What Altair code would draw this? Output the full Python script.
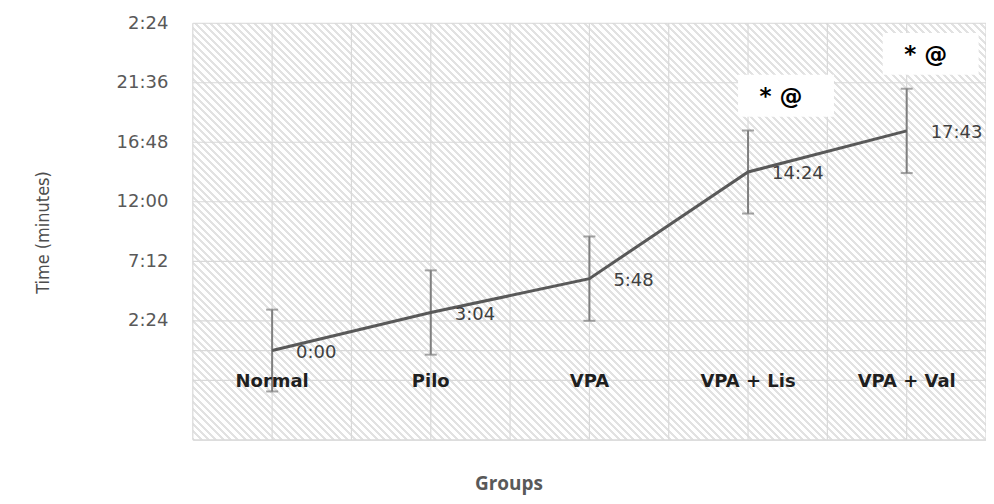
import altair as alt
import pandas as pd

# ---- data ----
categories = ["Normal", "Pilo", "VPA", "VPA + Lis", "VPA + Val"]
mean_minutes = [0.0, 3.067, 5.8, 14.4, 17.717]
value_labels = ["0:00", "3:04", "5:48", "14:24", "17:43"]
error_minutes = [3.3, 3.4, 3.4, 3.35, 3.4]

ytick_values = [-7.2, -2.4, 2.4, 7.2, 12.0, 16.8, 21.6, 26.4]
ytick_labels = ["", "", "2:24", "7:12", "12:00", "16:48", "21:36", "2:24"]
y_domain = [-7.2, 26.4]
baseline_value = [0.0]

ann_categories = ["VPA + Lis", "VPA + Val"]
ann_texts = ["* @", "* @"]
ann_box_low = [18.86, 22.24]
ann_box_high = [22.24, 25.62]
ann_text_y = [20.47, 23.85]

# ---- styles ----
W, H = 794, 417
GRID = "#d9d9d9"
ann_box_dx = [38, 24]
ann_text_dx = [33, 19]

df = pd.DataFrame({
    "cat": categories,
    "mean": mean_minutes,
    "label": value_labels,
    "lo": [m - e for m, e in zip(mean_minutes, error_minutes)],
    "hi": [m + e for m, e in zip(mean_minutes, error_minutes)],
})
ticks_df = pd.DataFrame({"v": ytick_values})
base_df = pd.DataFrame({"v": baseline_value})
cats_df = pd.DataFrame({"cat": categories})

keys = [int(round(v * 10)) for v in ytick_values]
label_expr = "[" + ",".join("'%s'" % s for s in ytick_labels) + "][indexof([" + \
    ",".join(str(k) for k in keys) + "], round(datum.value*10))]"

xscale = alt.Scale(type="band", domain=categories, paddingInner=0, paddingOuter=0)
yscale = alt.Scale(domain=y_domain, nice=False, zero=False)

xaxis = alt.Axis(
    orient="bottom", offset=-89, domain=False, ticks=False, tickSize=0, grid=False,
    labelPadding=31, labelBaseline="middle", labelAngle=0,
    labelFont="DejaVu Sans", labelFontSize=18, labelFontWeight="bold", labelColor="#1f1f1f",
    title="Groups", titleFont="Open Sans", titleFontSize=19, titleFontWeight="bold",
    titleColor="#595959", titleX=316, titleY=133, titleBaseline="middle", titleAnchor="middle",
    zindex=1,
)
yaxis = alt.Axis(
    values=ytick_values, labelExpr=label_expr, grid=False, domain=False, ticks=False, tickSize=0,
    labelPadding=25, labelFont="DejaVu Sans", labelFontSize=18, labelColor="#595959",
    labelOverlap=False, labelBaseline="middle",
    title="Time  (minutes)", titleFont="Liberation Sans Narrow, DejaVu Sans Condensed, sans-serif",
    titleFontSize=18, titleFontWeight="normal", titleColor="#4d4d4d",
    titleAngle=270, titleX=-149, titleY=209, titleAlign="center", titleBaseline="middle",
)


def X(bp=0.5):
    return alt.X("cat:N", scale=xscale, axis=xaxis, bandPosition=bp, sort=categories)


def Y(field):
    return alt.Y(field, scale=yscale, axis=yaxis)


# hatch background as a striped linear gradient
n_stripes = 165
frac = 0.40
stops = []
for k in range(n_stripes):
    t0 = k / n_stripes
    t1 = (k + frac) / n_stripes
    stops += [
        alt.GradientStop(color="#ffffff", offset=t0),
        alt.GradientStop(color="#e2e2e2", offset=t0),
        alt.GradientStop(color="#e2e2e2", offset=t1),
        alt.GradientStop(color="#ffffff", offset=t1),
    ]
stops.append(alt.GradientStop(color="#ffffff", offset=1.0))
hatch = alt.LinearGradient(gradient="linear", stops=stops,
                           x1=0, y1=1, x2=1.19546, y2=0.37214)

bg = alt.Chart(base_df).mark_rect(fill=hatch).encode(
    x=alt.value(0), x2=alt.value("width"), y=alt.value(0), y2=alt.value("height")
)

hgrid = alt.Chart(ticks_df).mark_rule(color=GRID, strokeWidth=1.2).encode(y=Y("v:Q"))
baseline = alt.Chart(base_df).mark_rule(color=GRID, strokeWidth=1.2).encode(y=Y("v:Q"))
vgrid_c = alt.Chart(cats_df).mark_rule(color=GRID, strokeWidth=1.2).encode(x=X(0.5))
vgrid_b = alt.Chart(cats_df).mark_rule(color=GRID, strokeWidth=1.2).encode(x=X(0))
right_edge = alt.Chart(base_df).mark_rule(color=GRID, strokeWidth=1.2).encode(
    x=alt.value("width"), y=alt.value(0), y2=alt.value("height"))

err = alt.Chart(df).mark_rule(color="#7f7f7f", strokeWidth=2).encode(
    x=X(), y=Y("lo:Q"), y2="hi:Q")
cap_lo = alt.Chart(df).mark_tick(color="#7f7f7f", orient="horizontal", size=12, thickness=2).encode(
    x=X(), y=Y("lo:Q"))
cap_hi = alt.Chart(df).mark_tick(color="#7f7f7f", orient="horizontal", size=12, thickness=2).encode(
    x=X(), y=Y("hi:Q"))
line = alt.Chart(df).mark_line(color="#595959", strokeWidth=3).encode(x=X(), y=Y("mean:Q"))
labels = alt.Chart(df).mark_text(align="left", baseline="middle", dx=24, dy=2,
                                 font="DejaVu Sans", fontSize=18, color="#404040").encode(
    x=X(), y=Y("mean:Q"), text="label:N")

ann_layers = []
for i, c in enumerate(ann_categories):
    adf = pd.DataFrame({"cat": [c], "lo": [ann_box_low[i]], "hi": [ann_box_high[i]],
                        "ty": [ann_text_y[i]], "t": [ann_texts[i]]})
    ann_layers.append(alt.Chart(adf).mark_bar(color="white", width=96, xOffset=ann_box_dx[i]).encode(
        x=alt.X("cat:N", scale=xscale, axis=xaxis, sort=categories), y=Y("lo:Q"), y2="hi:Q"))
    ann_layers.append(alt.Chart(adf).mark_text(font="DejaVu Sans", fontSize=23, fontWeight="bold",
                                               color="#000000", xOffset=ann_text_dx[i],
                                               baseline="middle").encode(
        x=X(), y=Y("ty:Q"), text="t:N"))

chart = alt.layer(
    bg, hgrid, baseline, vgrid_c, vgrid_b, right_edge,
    err, cap_lo, cap_hi, line, labels, *ann_layers
).properties(
    width=W, height=H,
    autosize=alt.AutoSizeParams(type="none"),
    padding={"left": 185, "top": 15, "right": 0, "bottom": 55},
    background="white",
).configure_view(stroke=GRID, strokeWidth=1)

chart.save("out.html", embed_options={"renderer": "svg", "actions": False})
